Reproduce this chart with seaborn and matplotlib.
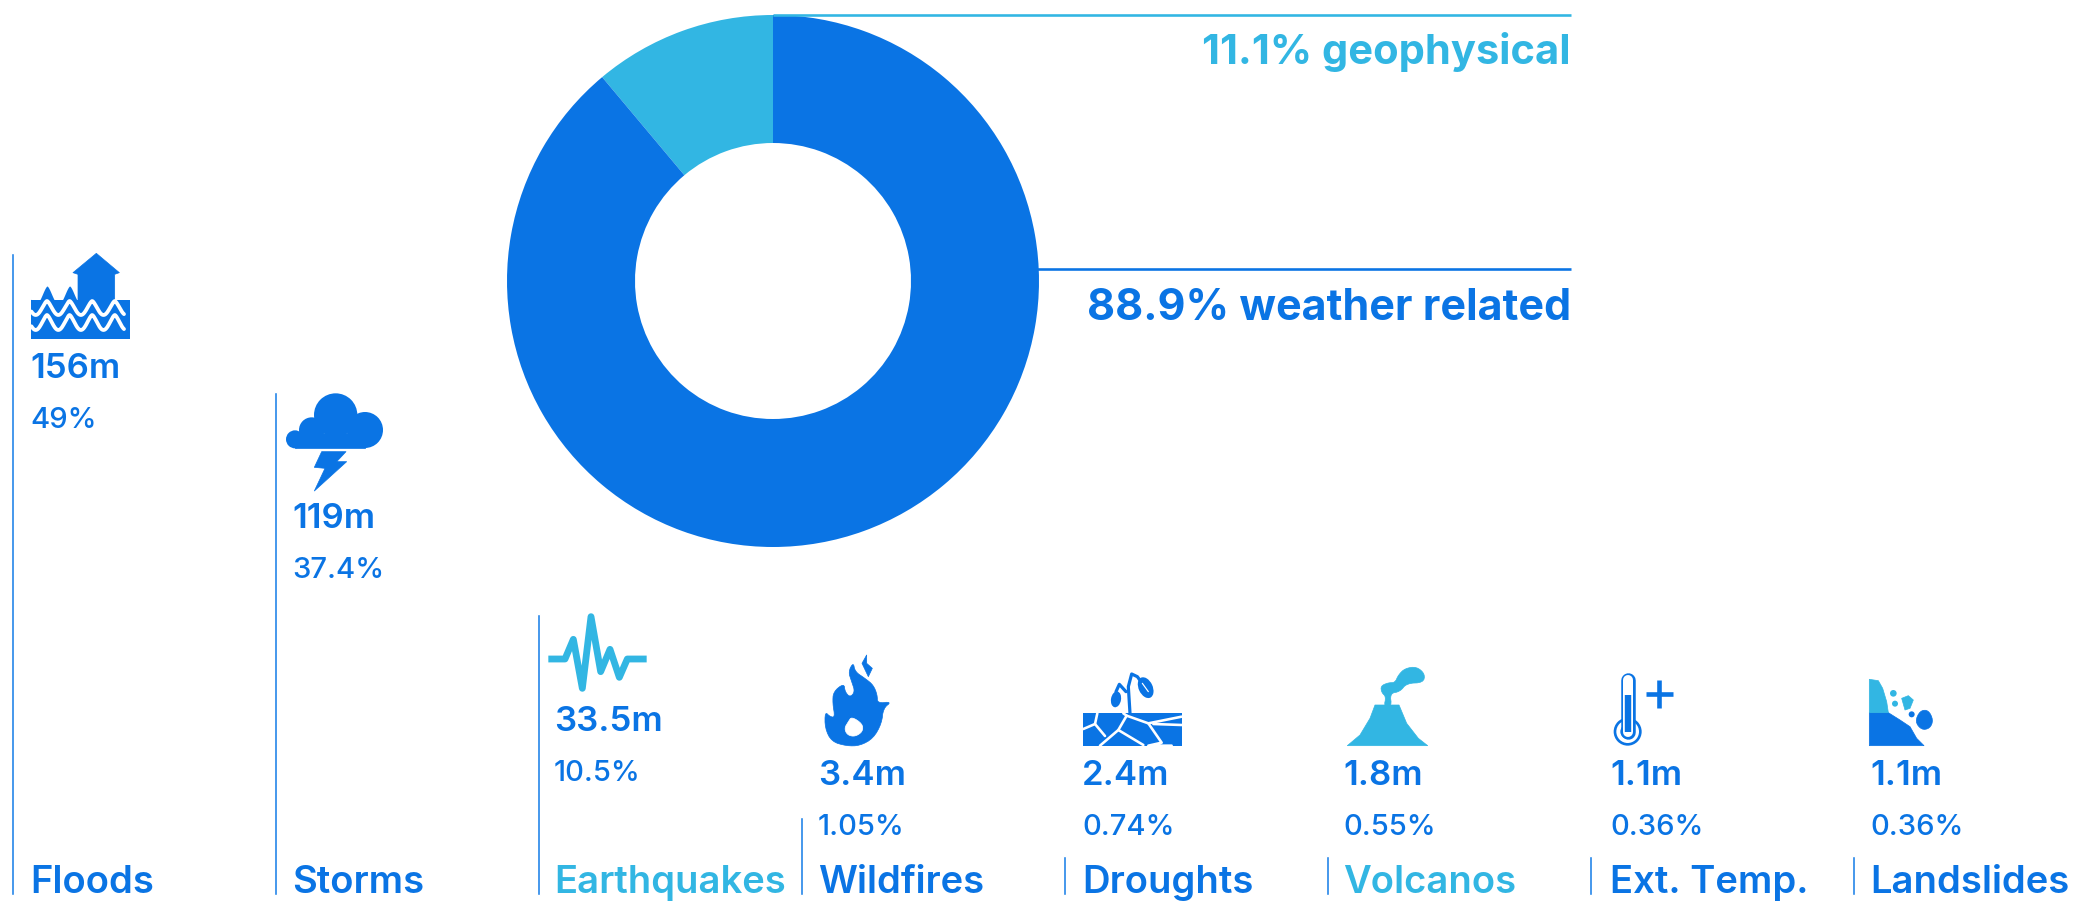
import numpy as np
import seaborn as sns
import matplotlib.pyplot as plt
from matplotlib.patches import Polygon, Circle, Ellipse, Rectangle

# data
categories = ['Floods', 'Storms', 'Earthquakes', 'Wildfires', 'Droughts', 'Volcanos', 'Ext. Temp.', 'Landslides']
value_labels = ['156m', '119m', '33.5m', '3.4m', '2.4m', '1.8m', '1.1m', '1.1m']
share_labels = ['49%', '37.4%', '10.5%', '1.05%', '0.74%', '0.55%', '0.36%', '0.36%']
stem_heights = [642, 503, 281, 78, 39, 39, 39, 39]
donut_labels = ['geophysical', 'weather related']
donut_values = [11.1, 88.9]

BLUE = '#0A74E4'
LIGHT = '#32B6E3'
W, H = 2073, 902
PX = 0.72  # one pixel in points at dpi 100

sns.set_theme(style='white')
plt.rcParams['font.family'] = ['Inter', 'DejaVu Sans']

fig = plt.figure(figsize=(W / 100, H / 100), dpi=100)

# stems, spaced evenly along the bottom
ax = fig.add_axes([0, 0, 1, 1])
step = 263.1
sns.barplot(x=categories, y=stem_heights, color='#1F82E8', saturation=1, width=3 / step, ax=ax)
ax.set_xlim(-12 / step, (W - 12) / step)
ax.set_ylim(-(H - 895), 895)
ax.set_axis_off()

# donut
ax_pie = fig.add_axes([(773 - 268) / W, 1 - (281 + 268) / H, 536 / W, 536 / H])
ax_pie.pie(donut_values, colors=[LIGHT, BLUE], startangle=90, radius=266 / 268,
           wedgeprops={'width': 128 / 268, 'linewidth': 0})
ax_pie.set_xlim(-1, 1)
ax_pie.set_ylim(-1, 1)

# overlay in pixel coordinates for text and pictograms
ov = fig.add_axes([0, 0, 1, 1], zorder=5)
ov.set_xlim(0, W)
ov.set_ylim(H, 0)
ov.set_axis_off()
ov.patch.set_alpha(0)


def pts(coords, ox, oy):
    return [(x / 3 + ox, y / 3 + oy) for x, y in coords]


def smooth(coords, rounds=2):
    # corner cutting, the icons are soft shapes
    p = np.array(coords, dtype=float)
    for _ in range(rounds):
        q = np.roll(p, -1, axis=0)
        p = np.column_stack([0.75 * p + 0.25 * q, 0.25 * p + 0.75 * q]).reshape(-1, 2)
    return p


def fill(coords, ox, oy, color=BLUE, soft=False):
    xy = pts(coords, ox, oy)
    if soft:
        xy = smooth(xy)
    ov.add_patch(Polygon(xy, closed=True, fc=color, ec=color, lw=0.5, joinstyle='round'))


def stroke(coords, ox, oy, width, color=BLUE, cap='round'):
    xy = np.array(pts(coords, ox, oy))
    ov.plot(xy[:, 0], xy[:, 1], color=color, lw=width * PX, solid_capstyle=cap, solid_joinstyle='round')


def blob(x, y, r, ox, oy, color=BLUE):
    ov.add_patch(Circle((x / 3 + ox, y / 3 + oy), r / 3, fc=color, ec='none'))


def waves(x0, x1, y_crest, y_trough, period):
    xs = np.linspace(x0, x1, 200)
    ys = y_crest + (y_trough - y_crest) * np.abs(np.sin(np.pi * (xs - x0) / period)) ** 1.5
    return xs, ys


# Floods
ox, oy = 0, 230
fill([(289, 70), (358, 128), (344, 133), (344, 215), (234, 215), (234, 133), (219, 128)], ox, oy)
ov.add_patch(Rectangle((31, 300), 99, 39, fc=BLUE, ec='none'))
xs, ys = waves(24.4, 78, 286, 304, 22.6)
keep = xs >= 31
ov.fill_between(xs[keep], ys[keep], 304, color=BLUE, lw=0)
for crest, trough in [(301, 315), (315, 330)]:
    xs, ys = waves(24.4, 124, crest, trough, 22.6)
    keep = xs >= 31
    ov.plot(xs[keep], ys[keep], color='white', lw=3.8 * PX)

# Storms
for x, y, r in [(1007, 555, 65), (1095, 600, 54), (935, 600, 38), (885, 628, 27)]:
    blob(x, y, r, ox, oy)
fill([(885, 610), (1095, 610), (1095, 654), (885, 654)], ox, oy)
fill([(965, 665), (1038, 665), (1010, 695), (1040, 695), (943, 783), (975, 715), (943, 712)], ox, oy)

# Earthquakes
ox, oy = 540, 600
stroke([(25, 177), (75, 177), (100, 118), (127, 265), (153, 50), (182, 215), (210, 148), (238, 232),
        (262, 177), (320, 177)], ox, oy, 6.8, LIGHT, 'butt')

# Wildfires
fill([(940, 187), (945, 215), (975, 235), (1000, 255), (1012, 285), (1012, 310), (1055, 305), (1030, 325),
      (1025, 370), (1000, 415), (960, 437), (920, 438), (875, 425), (855, 385), (855, 335), (870, 350),
      (885, 352), (878, 310), (880, 275), (912, 250), (915, 275), (930, 292), (945, 275), (935, 245),
      (925, 215)], ox, oy, soft=True)
fill([(935, 350), (968, 372), (968, 395), (945, 410), (922, 405), (913, 385), (925, 365)], ox, oy, 'white', soft=True)
fill([(980, 165), (966, 190), (985, 230), (997, 205), (980, 190)], ox, oy)

# Droughts
ox, oy = 1060, 650
ov.add_patch(Rectangle((1083, 713), 99, 33, fc=BLUE, ec='none'))
for crack in [[(112, 190), (105, 222), (70, 237)], [(105, 222), (135, 258)],
              [(120, 287), (175, 240), (200, 197), (190, 190)], [(175, 240), (250, 285)],
              [(200, 197), (265, 220), (305, 278), (265, 287), (335, 287)],
              [(265, 220), (365, 200)], [(280, 222), (365, 225)]]:
    stroke(crack, ox, oy, 2.6, 'white')
stroke([(210, 190), (205, 110), (215, 72), (232, 80), (243, 95)], ox, oy, 3.2)
stroke([(198, 125), (178, 103), (168, 125)], ox, oy, 3.2)
ov.add_patch(Ellipse((1060 + 257 / 3, 650 + 113 / 3), 14, 22, angle=-25, fc=BLUE, ec='none'))
ov.add_patch(Ellipse((1060 + 168 / 3, 650 + 148 / 3), 10, 16, angle=10, fc=BLUE, ec='none'))
stroke([(247, 100), (265, 125)], ox, oy, 1.2, 'white')

# Volcanos
fill([(945, 165), (1017, 165), (1040, 220), (1075, 265), (1103, 287), (862, 287), (900, 255), (930, 205)],
     ox, oy, LIGHT)
fill([(972, 170), (995, 170), (990, 130), (1020, 125), (1040, 100), (1090, 98), (1095, 72), (1070, 50),
      (1035, 55), (1015, 75), (1005, 98), (985, 98), (962, 108), (965, 128), (978, 140)], ox, oy, LIGHT, soft=True)

# Ext. Temp.
ox, oy = 1580, 660
stroke([(143, 60), (143, 215)], ox, oy, 14.5)
blob(143, 215, 42, ox, oy)
stroke([(143, 60), (143, 215)], ox, oy, 10, 'white')
blob(143, 215, 34, ox, oy, 'white')
stroke([(143, 105), (143, 215)], ox, oy, 6.4, BLUE, 'butt')
blob(143, 215, 22, ox, oy)
stroke([(197, 101), (280, 101)], ox, oy, 4.6, BLUE, 'butt')
stroke([(237, 60), (237, 145)], ox, oy, 4.6, BLUE, 'butt')

# Landslides
fill([(868, 158), (925, 158), (960, 180), (990, 200), (1010, 235), (1032, 257), (868, 257)], ox, oy)
fill([(868, 58), (895, 62), (908, 85), (920, 125), (925, 158), (868, 158)], ox, oy, LIGHT)
blob(940, 100, 10, ox, oy, LIGHT)
blob(945, 131, 9, ox, oy, LIGHT)
fill([(965, 115), (985, 107), (1000, 120), (990, 145), (975, 150)], ox, oy, LIGHT)
blob(995, 163, 9, ox, oy)
fill([(1020, 152), (1045, 150), (1060, 180), (1050, 205), (1025, 210), (1005, 185)], ox, oy, soft=True)

# text under the pictograms
text_x = [30, 292, 554, 818, 1082, 1343, 1610, 1870]
value_y = [378, 528, 731, 785, 785, 785, 785, 785]
for i, name in enumerate(categories):
    col = LIGHT if name in ('Earthquakes', 'Volcanos') else BLUE
    ov.text(text_x[i], 893, name, color=col, fontsize=27.5, fontweight='semibold', ha='left', va='baseline')
    ov.text(text_x[i], value_y[i], value_labels[i], color=BLUE, fontsize=25, fontweight='semibold',
            ha='left', va='baseline')
    ov.text(text_x[i], value_y[i] + 50, share_labels[i], color=BLUE, fontsize=21, fontweight='medium',
            ha='left', va='baseline')

# donut callouts
for val, lab, col, size, y_line, y_text in zip(donut_values, donut_labels, [LIGHT, BLUE], [30, 31], [15, 269], [64, 320]):
    x0 = 773 if col == LIGHT else 1037
    ov.plot([x0, 1571], [y_line, y_line], color=col, lw=2.6 * PX, solid_capstyle='butt')
    ov.text(1571, y_text, f'{val}% {lab}', color=col, fontsize=size, fontweight='bold', ha='right', va='baseline')

fig.savefig('out.png', dpi=100)
